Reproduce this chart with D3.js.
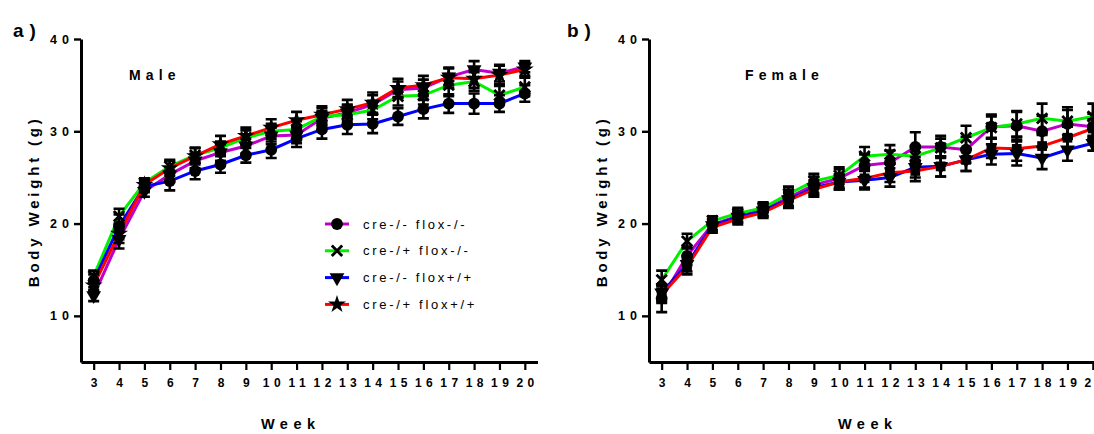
<!DOCTYPE html>
<html>
<head>
<meta charset="utf-8">
<script src="https://cdn.jsdelivr.net/npm/d3@7"></script>
<style>
  body { margin: 0; background: #fff; }
  svg { display: block; font-family: "Liberation Sans", Arial, sans-serif; }
  .tick text { font-weight: bold; fill: #000; }
  .axis path, .axis line { stroke: #000; }
</style>
</head>
<body>
<div id="wrapper"></div>
<script>
// data
const weeks = [3, 4, 5, 6, 7, 8, 9, 10, 11, 12, 13, 14, 15, 16, 17, 18, 19, 20]
const groups = ["cre-/- flox-/-", "cre-/+ flox-/-", "cre-/- flox+/+", "cre-/+ flox+/+"]
const yTicks = [10, 20, 30, 40]

const maleMean = [
  [12.2, 18.3, 23.5, 25.3, 26.8, 27.7, 28.4, 29.5, 29.6, 31.4, 32.0, 32.9, 34.5, 34.7, 35.9, 36.7, 36.3, 37.0],
  [14.3, 20.8, 24.4, 26.2, 27.4, 28.2, 29.3, 30.0, 30.2, 31.6, 31.8, 32.3, 33.8, 33.9, 35.0, 35.4, 33.9, 34.8],
  [13.8, 19.7, 24.0, 24.6, 25.7, 26.4, 27.4, 28.0, 29.2, 30.2, 30.7, 30.8, 31.6, 32.4, 33.0, 33.0, 33.0, 34.1],
  [13.3, 18.9, 24.2, 26.0, 27.3, 28.6, 29.5, 30.4, 31.2, 31.8, 32.4, 33.1, 34.7, 35.0, 35.8, 35.7, 36.1, 36.7]
]
const maleSem = [
  [0.6, 1.0, 0.6, 0.8, 0.8, 0.9, 0.8, 0.9, 0.9, 0.8, 0.9, 1.0, 0.9, 0.9, 0.9, 0.9, 0.9, 0.6],
  [0.6, 0.8, 0.5, 0.7, 0.8, 0.7, 0.8, 0.8, 0.9, 0.9, 1.0, 1.0, 1.0, 1.0, 1.2, 1.0, 1.0, 1.0],
  [0.7, 1.3, 0.6, 1.0, 0.9, 0.9, 0.8, 0.9, 0.9, 1.0, 1.0, 1.0, 0.9, 1.0, 1.0, 1.1, 0.9, 0.9],
  [0.6, 1.0, 0.6, 0.8, 0.9, 0.9, 0.9, 0.9, 0.9, 0.9, 1.0, 1.1, 1.0, 1.0, 1.1, 1.0, 1.0, 0.7]
]

const femaleMean = [
  [11.9, 16.5, 19.9, 20.8, 21.5, 22.8, 24.2, 24.9, 26.3, 26.6, 28.3, 28.3, 28.0, 30.5, 30.6, 30.0, 30.8, 30.5],
  [13.9, 18.1, 20.3, 21.1, 21.7, 23.2, 24.6, 25.2, 27.3, 27.5, 27.3, 28.2, 29.3, 30.4, 30.8, 31.4, 31.1, 31.6],
  [12.5, 15.6, 19.8, 20.7, 21.4, 22.6, 23.9, 24.5, 24.7, 25.0, 26.1, 26.2, 26.9, 27.5, 27.6, 27.1, 28.0, 28.7],
  [12.3, 15.3, 19.6, 20.5, 21.2, 22.5, 23.7, 24.5, 24.9, 25.5, 25.7, 26.2, 26.9, 28.2, 28.1, 28.4, 29.3, 30.3]
]
const femaleSem = [
  [1.5, 1.0, 0.6, 0.6, 0.7, 0.9, 0.9, 1.0, 1.2, 1.3, 1.6, 1.2, 1.4, 1.3, 1.5, 1.7, 1.5, 1.4],
  [1.0, 0.8, 0.5, 0.6, 0.6, 0.8, 0.8, 0.9, 1.0, 1.0, 1.1, 1.0, 1.3, 1.2, 1.4, 1.6, 1.5, 1.4],
  [0.9, 0.8, 0.6, 0.6, 0.6, 0.8, 0.8, 0.8, 1.0, 1.0, 1.1, 1.1, 1.2, 1.1, 1.3, 1.2, 1.2, 0.8],
  [0.9, 0.8, 0.6, 0.6, 0.6, 0.8, 0.8, 0.8, 1.0, 1.0, 1.1, 1.1, 1.2, 1.1, 1.3, 1.2, 1.2, 1.0]
]

// styles
const colors = ["#c000c8", "#00f000", "#0000ff", "#ff0000"]
const legendSymbols = ["circle", "cross", "triangle", "star"]

const dimensions = { width: 1094, height: 434 }

const svg = d3.select("#wrapper").append("svg")
    .attr("width", dimensions.width)
    .attr("height", dimensions.height)

function drawSymbol(g, type, x, y) {
  if (type == "cross") {
    const s = 5.2
    g.append("path")
      .attr("d", `M${x - s},${y - s}L${x + s},${y + s}M${x - s},${y + s}L${x + s},${y - s}`)
      .attr("stroke", "#000").attr("stroke-width", 2.8).attr("fill", "none")
    return
  }
  const shapes = {
    circle: [d3.symbolCircle, 110, 0],
    triangle: [d3.symbolTriangle, 95, 180],
    star: [d3.symbolStar, 100, 0],
    square: [d3.symbolSquare, 95, 0],
  }
  const [sym, size, rot] = shapes[type]
  g.append("path")
    .attr("d", d3.symbol(sym, size)())
    .attr("transform", `translate(${x},${y}) rotate(${rot})`)
    .attr("fill", "#000")
}

// text with letter spacing, trailing gap compensated for centred text
function spacedText(g, txt, x, y, size, spacing, anchor = "start", weight = "bold") {
  return g.append("text")
      .attr("x", anchor == "middle" ? x + spacing / 2 : x)
      .attr("y", y)
      .attr("text-anchor", anchor)
      .style("font-size", `${size}px`)
      .style("font-weight", weight)
      .style("letter-spacing", `${spacing}px`)
      .text(txt)
}

function drawPanel(opts) {
  const { left, letter, letterX, title, titleX, means, sems, symbols, weekX } = opts
  const g = svg.append("g")

  const xScale = d3.scaleLinear().domain([2.5, 20.5]).range([left, left + 456.5])
  const yScale = d3.scaleLinear().domain([5, 40]).range([362, 39])

  // axes
  const xAxis = g.append("g").attr("class", "axis")
      .attr("transform", `translate(0,362)`)
      .call(d3.axisBottom(xScale).tickValues(weeks).tickSize(8).tickSizeOuter(0).tickPadding(8))
  xAxis.select(".domain").attr("stroke-width", 3)
  xAxis.selectAll(".tick line").attr("stroke-width", 2.2)
  xAxis.selectAll(".tick text")
      .attr("dx", 2.2)
      .style("font-size", "12px").style("letter-spacing", "4.4px")

  const yAxis = g.append("g").attr("class", "axis")
      .attr("transform", `translate(${left},0)`)
      .call(d3.axisLeft(yScale).tickValues(yTicks).tickSize(7).tickSizeOuter(0).tickPadding(0))
  yAxis.select(".domain").attr("stroke-width", 3)
  yAxis.selectAll(".tick line").attr("stroke-width", 2.4)
  yAxis.selectAll(".tick text").style("font-size", "12.5px").style("letter-spacing", "5px")

  // labels
  const yLab = g.append("g").attr("transform", `translate(${left - 42.5},${yScale(22.2)}) rotate(-90)`)
  spacedText(yLab, "Body Weight (g)", 0, 0, 15, 3.8, "middle")
  spacedText(g, "Week", weekX, 429, 14.5, 5.5, "middle")
  spacedText(g, letter, letterX, 37, 19, 6)
  spacedText(g, title, titleX, 80, 14, 5.1)

  // lines
  const line = d3.line()
      .x((d, i) => xScale(weeks[i]))
      .y(d => yScale(d))
  g.selectAll(".series")
    .data(means)
    .join("path")
      .attr("class", "series")
      .attr("d", line)
      .attr("fill", "none")
      .attr("stroke", (d, i) => colors[i])
      .attr("stroke-width", 3)

  // error bars
  const bars = g.append("g")
  means.forEach((series, s) => {
    series.forEach((v, i) => {
      const x = xScale(weeks[i])
      const y0 = yScale(v - sems[s][i])
      const y1 = yScale(v + sems[s][i])
      bars.append("path")
        .attr("d", `M${x},${y0}V${y1}M${x - 5.5},${y0}H${x + 5.5}M${x - 5.5},${y1}H${x + 5.5}`)
        .attr("stroke", "#000").attr("stroke-width", 2.6).attr("fill", "none")
    })
  })

  // markers
  const marks = g.append("g")
  means.forEach((series, s) => {
    series.forEach((v, i) => drawSymbol(marks, symbols[s], xScale(weeks[i]), yScale(v)))
  })
}

drawPanel({
  left: 81, letter: "a)", letterX: 13, title: "Male", titleX: 129, weekX: 288,
  means: maleMean, sems: maleSem,
  symbols: ["triangle", "cross", "circle", "star"]
})
drawPanel({
  left: 649, letter: "b)", letterX: 567, title: "Female", titleX: 745, weekX: 865,
  means: femaleMean, sems: femaleSem,
  symbols: ["circle", "cross", "triangle", "square"]
})

// legend
const legend = svg.append("g").attr("transform", "translate(325,224)")
groups.forEach((name, i) => {
  const row = legend.append("g").attr("transform", `translate(0,${i * 26.8})`)
  row.append("line")
      .attr("x1", 0).attr("x2", 24)
      .attr("stroke", colors[i]).attr("stroke-width", 3)
  drawSymbol(row, legendSymbols[i], 12, 0)
  spacedText(row, name, 38, 0, 13, 2.7, "start", "normal").attr("dy", "0.35em")
})
</script>
</body>
</html>
